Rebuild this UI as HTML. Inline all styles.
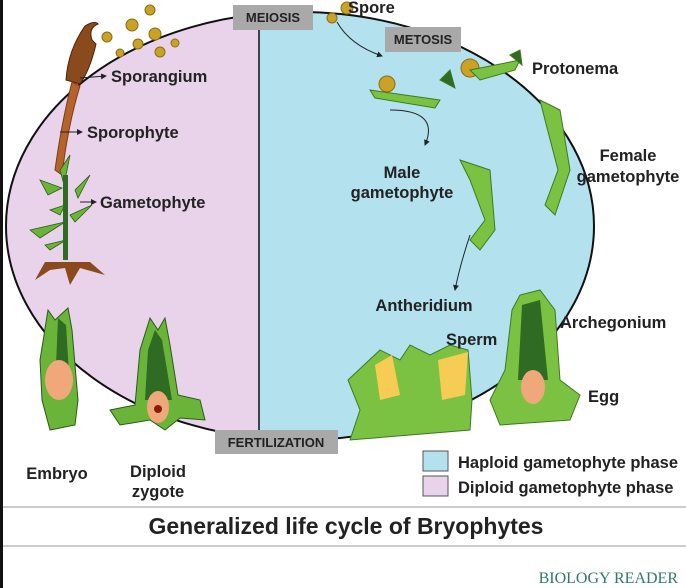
<!DOCTYPE html>
<html><head><meta charset="utf-8"><style>
html,body{margin:0;padding:0;background:#fff}
svg{display:block}
text{font-family:"Liberation Sans",sans-serif;font-weight:bold;fill:#222}
</style></head><body>
<svg width="686" height="588" viewBox="0 0 686 588" xmlns="http://www.w3.org/2000/svg">
<defs>
<clipPath id="L"><rect x="0" y="0" width="259" height="460"/></clipPath>
<clipPath id="R"><rect x="259" y="0" width="400" height="460"/></clipPath>
<marker id="a" markerWidth="6" markerHeight="6" refX="5" refY="3" orient="auto"><path d="M0,0L6,3L0,6z" fill="#222"/></marker>
</defs>
<rect x="0" y="0" width="3" height="588" fill="#111"/>
<ellipse cx="300" cy="226" rx="294" ry="214" fill="#e8d3ea" clip-path="url(#L)"/>
<ellipse cx="300" cy="226" rx="294" ry="214" fill="#b3e2ee" clip-path="url(#R)"/>
<ellipse cx="300" cy="226" rx="294" ry="214" fill="none" stroke="#111" stroke-width="2"/>
<line x1="259" y1="12" x2="259" y2="440" stroke="#111" stroke-width="1.5"/>
<rect x="233" y="5" width="80" height="25" fill="#a9a9a9"/><text x="273" y="22" font-size="13" text-anchor="middle">MEIOSIS</text>
<rect x="385" y="27" width="76" height="25" fill="#a9a9a9"/><text x="423" y="44" font-size="13" text-anchor="middle">METOSIS</text>
<rect x="215" y="430" width="123" height="24" fill="#a9a9a9"/><text x="276" y="447" font-size="13" text-anchor="middle">FERTILIZATION</text>
<g fill="#c9a227" stroke="#8a6d10" stroke-width="1">
<circle cx="150" cy="10" r="5"/><circle cx="132" cy="25" r="6"/><circle cx="107" cy="37" r="5"/><circle cx="155" cy="34" r="6"/><circle cx="138" cy="44" r="5"/><circle cx="175" cy="43" r="4"/><circle cx="120" cy="53" r="4"/><circle cx="160" cy="52" r="5"/>
<circle cx="332" cy="18" r="5"/><circle cx="347" cy="8" r="6"/><circle cx="387" cy="84" r="8"/><circle cx="470" cy="68" r="9"/>
</g>
<path d="M85,26 Q95,20 98,24 Q88,28 92,40 L96,44 Q90,70 80,84 L66,80 Q68,50 85,26z" fill="#8b4a1c" stroke="#4a2508"/>
<path d="M72,82 Q62,120 55,170 L62,175 Q68,125 80,86z" fill="#b5632b" stroke="#7a3d14"/>
<g fill="#6ab43a" stroke="#2d5a17" stroke-width="0.8">
<path d="M60,170 L70,155 L64,185z"/><path d="M40,180 L62,188 L48,195z"/><path d="M50,210 L65,205 L60,215z"/><path d="M30,230 L65,222 L40,238z"/><path d="M70,215 L92,205 L75,222z"/><path d="M75,190 L90,175 L78,198z"/><path d="M45,245 L66,240 L50,250z"/>
</g>
<rect x="63" y="175" width="5" height="85" fill="#2f6b22"/>
<path d="M35,280 L45,262 L90,262 L105,275 L80,268 L70,285 L65,268 L50,270z" fill="#8b4a1c"/>
<line x1="80" y1="78" x2="106" y2="76" stroke="#222" marker-end="url(#a)"/>
<line x1="60" y1="132" x2="82" y2="132" stroke="#222" marker-end="url(#a)"/>
<line x1="80" y1="202" x2="96" y2="202" stroke="#222" marker-end="url(#a)"/>
<text x="111" y="82" font-size="16.5">Sporangium</text>
<text x="87" y="138" font-size="16.5">Sporophyte</text>
<text x="100" y="208" font-size="16.5">Gametophyte</text>
<path d="M48,310 L55,320 L68,308 L72,330 L78,400 L75,425 L50,430 L42,400 L40,360z" fill="#6ab43a" stroke="#2d5a17"/>
<path d="M58,318 L66,325 L70,390 L55,390z" fill="#2f6b22"/>
<ellipse cx="59" cy="380" rx="14" ry="20" fill="#f0a87a"/>
<path d="M150,318 L158,330 L165,318 L170,345 L178,395 L200,400 L205,420 L180,418 L165,430 L150,420 L120,425 L110,410 L135,405 L140,350z" fill="#6ab43a" stroke="#2d5a17"/>
<path d="M155,330 L162,340 L172,400 L145,400 L148,350z" fill="#2f6b22"/>
<ellipse cx="158" cy="407" rx="11" ry="16" fill="#f0a87a"/><circle cx="158" cy="409" r="4" fill="#8b1a10"/>
<text x="57" y="479" font-size="16.5" text-anchor="middle">Embryo</text>
<text x="158" y="477" font-size="16.5" text-anchor="middle">Diploid</text>
<text x="158" y="497" font-size="16.5" text-anchor="middle">zygote</text>
<path d="M337,22 Q350,45 382,56" fill="none" stroke="#222" marker-end="url(#a)"/>
<path d="M390,110 Q440,110 425,145" fill="none" stroke="#222" marker-end="url(#a)"/>
<path d="M470,235 Q460,265 455,290" fill="none" stroke="#222" marker-end="url(#a)"/>
<g fill="#7cc242" stroke="#3c7a20" stroke-width="1">
<path d="M370,90 L440,100 L435,108 L375,98z"/><path d="M470,70 L520,60 L515,70 L480,80z"/>
<path d="M440,80 L450,70 L455,88z" fill="#2f6b22"/><path d="M510,55 L520,50 L522,65z" fill="#2f6b22"/>
<path d="M460,160 L490,170 L495,230 L480,250 L470,240 L485,220 L470,180z"/>
<path d="M540,100 L560,110 L570,170 L555,215 L545,205 L558,170 L545,120z"/>
<path d="M348,380 L380,350 L400,360 L410,345 L430,355 L450,345 L468,350 L472,400 L470,430 L350,440 L360,410z"/>
<path d="M512,310 L520,295 L540,290 L555,310 L560,380 L580,395 L570,420 L500,425 L490,400 L505,370z"/>
</g>
<path d="M375,365 L392,355 L400,395 L380,400z" fill="#f6cc55"/>
<path d="M438,360 L468,352 L465,395 L442,400z" fill="#f6cc55"/>
<path d="M522,305 L540,300 L548,380 L518,380z" fill="#2f6b22"/>
<ellipse cx="533" cy="387" rx="12" ry="17" fill="#f0a87a"/>
<text x="348" y="13" font-size="16.5">Spore</text>
<text x="532" y="74" font-size="16.5">Protonema</text>
<text x="402" y="178" font-size="16.5" text-anchor="middle">Male</text>
<text x="402" y="198" font-size="16.5" text-anchor="middle">gametophyte</text>
<text x="628" y="161" font-size="16.5" text-anchor="middle">Female</text>
<text x="628" y="182" font-size="16.5" text-anchor="middle">gametophyte</text>
<text x="424" y="311" font-size="16.5" text-anchor="middle">Antheridium</text>
<text x="446" y="345" font-size="16.5">Sperm</text>
<text x="560" y="328" font-size="16.5">Archegonium</text>
<text x="588" y="402" font-size="16.5">Egg</text>
<rect x="423" y="451" width="25" height="20" fill="#b3e2ee" stroke="#555"/>
<rect x="423" y="476" width="25" height="20" fill="#e8d3ea" stroke="#555"/>
<text x="458" y="468" font-size="16.5">Haploid gametophyte phase</text>
<text x="458" y="493" font-size="16.5">Diploid gametophyte phase</text>
<line x1="3" y1="507" x2="686" y2="507" stroke="#999"/>
<line x1="3" y1="546" x2="686" y2="546" stroke="#999"/>
<text x="346" y="534" font-size="23" text-anchor="middle">Generalized life cycle of Bryophytes</text>
<text x="678" y="583" font-size="16" text-anchor="end" style="font-family:'Liberation Serif',serif;font-weight:normal;fill:#2f7a6a">BIOLOGY READER</text>
</svg>
</body></html>
